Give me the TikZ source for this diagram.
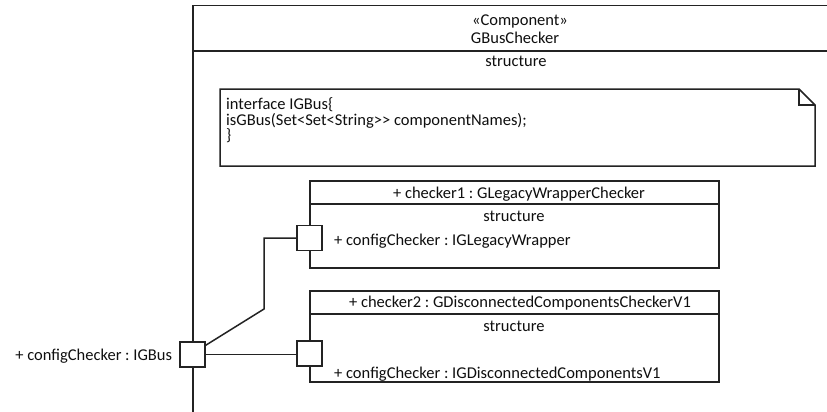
\documentclass[tikz,border=0pt]{standalone}
\usepackage{fontspec}
\usepackage{tikz}
\usetikzlibrary{positioning, calc}
\newfontfamily\umlfont{Carlito}
\frenchspacing
\definecolor{umlline}{RGB}{35, 35, 35}
\definecolor{umlink}{RGB}{15, 15, 15}

\tikzset{
  umltext/.style={font=\umlfont\fontsize{16.5}{16.5}\selectfont, text=umlink, inner sep=0pt, text height=11pt, text depth=0pt},
  umlbox/.style={draw=umlline, line width=1.5pt, fill=white, anchor=north west, inner sep=0pt},
  port/.style={draw=umlline, line width=1.5pt, fill=white, minimum size=25pt, inner sep=0pt},
  wire/.style={draw=umlline, line width=1.5pt},
}

\begin{document}
\begin{tikzpicture}[x=1pt, y=-1pt]
  \useasboundingbox (0,0) rectangle (827,412);
  % component frame
  \node[umlbox, minimum width=652pt, minimum height=425pt] (frame) at (192,5) {};
  \draw[wire] (frame.west |- 0,51) -- (frame.east |- 0,51);
  \node[umltext] (stereo) at (520,20) {«Component»};
  \node[umltext] (compname) at (515,38) {GBusChecker};
  \node[umltext] (compstruct) at (516,61) {structure};

  % note with folded corner
  \draw[wire, line join=miter] (220,89) -- (799,89) -- (815,105) -- (815,166) -- (220,166) -- cycle;
  \draw[wire] (799,89) -- (799,105) -- (815,105);
  \node[umltext, anchor=west] (noteA) at (226,104) {interface IGBus\{};
  \node[umltext, anchor=west] (noteB) at (226,119.5) {isGBus(Set<Set<String>> componentNames);};
  \node[umltext, anchor=west] (noteC) at (226,135) {\}};

  % part checker1
  \node[umlbox, minimum width=409pt, minimum height=87pt] (checkerA) at (309,180) {};
  \draw[wire] (checkerA.west |- 0,204) -- (checkerA.east |- 0,204);
  \node[umltext] (checkerAname) at (519,193) {+ checker1 : GLegacyWrapperChecker};
  \node[umltext] (checkerAstruct) at (514,216) {structure};
  \node[port] (portA) at (309.5,238) {};
  \node[umltext, anchor=west] (portAlabel) at (334,240) {+ configChecker : IGLegacyWrapper};

  % part checker2
  \node[umlbox, minimum width=409pt, minimum height=91pt] (checkerB) at (309,290) {};
  \draw[wire] (checkerB.west |- 0,314) -- (checkerB.east |- 0,314);
  \node[umltext] (checkerBname) at (520,302) {+ checker2 : GDisconnectedComponentsCheckerV1};
  \node[umltext] (checkerBstruct) at (514,326) {structure};
  \node[port] (portB) at (309.5,353.5) {};
  \node[umltext, anchor=west] (portBlabel) at (334,373) {+ configChecker : IGDisconnectedComponentsV1};

  % outer port
  \node[port] (busport) at (192.5,354.5) {};
  \node[umltext, left=7pt of busport] (buslabel) {+ configChecker : IGBus};

  % connectors
  \coordinate (bend) at (264,309);
  \draw[wire] (portA.west) -| (bend) -- ([yshift=-4pt]busport.north east);
  \draw[wire] (busport.east) -- (busport.east -| portB.west);
\end{tikzpicture}
\end{document}
